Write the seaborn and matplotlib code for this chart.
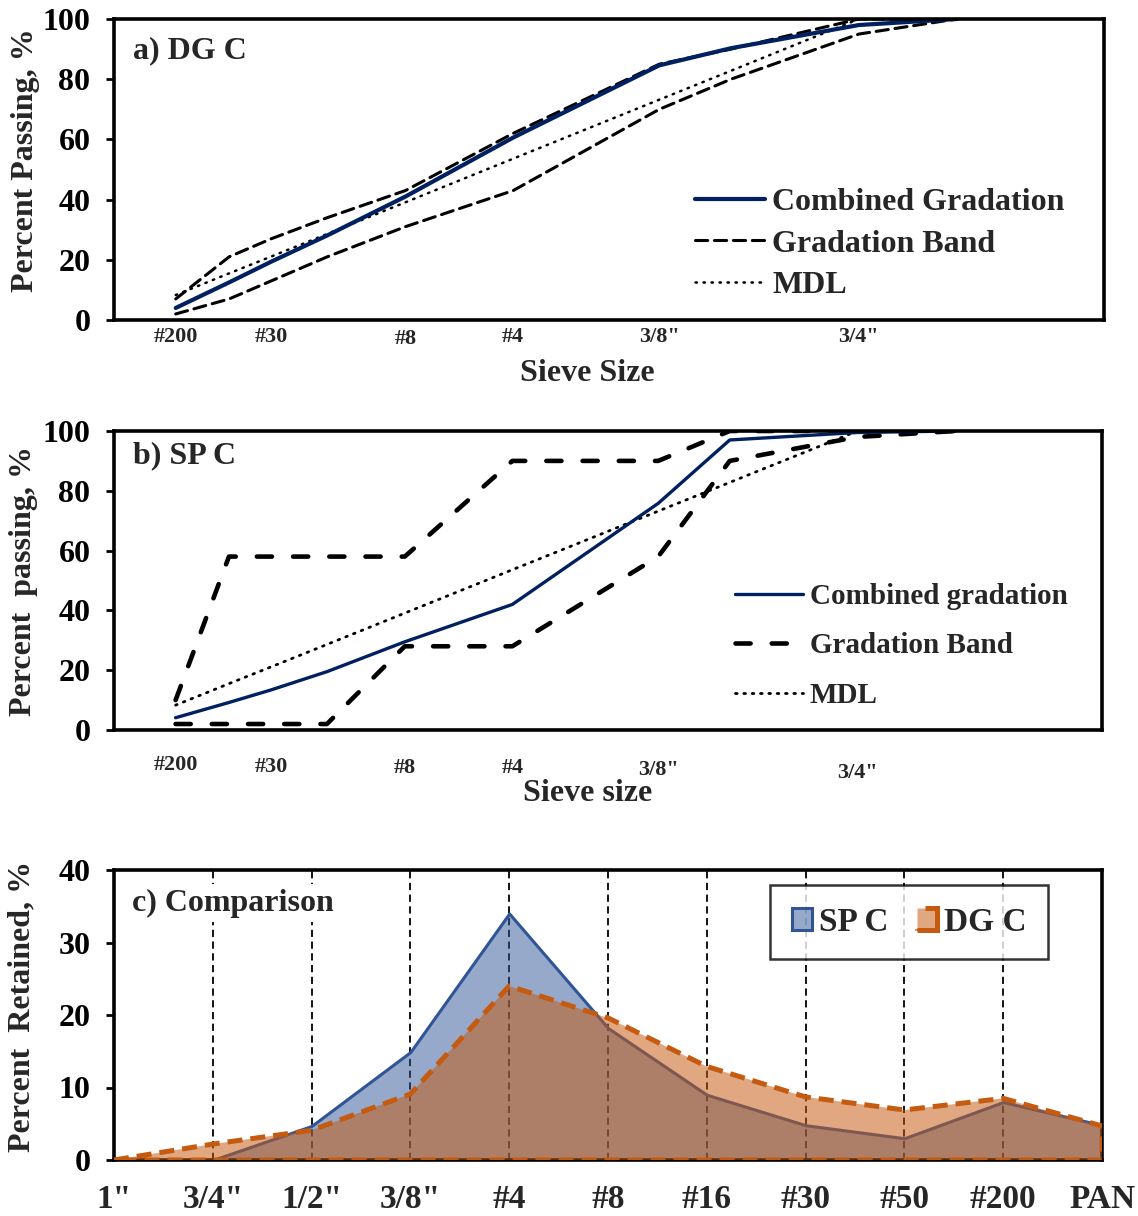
import numpy as np
import matplotlib
matplotlib.use("Agg")
import matplotlib.pyplot as plt
import seaborn as sns
from matplotlib.lines import Line2D
from matplotlib.transforms import blended_transform_factory

sns.set_theme(style="white")
plt.rcParams["font.family"] = ["Liberation Serif", "DejaVu Serif"]
plt.rcParams["font.weight"] = "bold"
plt.rcParams["axes.labelweight"] = "bold"

# ---- sieve sizes (mm) used for the passing curves ----
sieve_mm = [0.075, 0.3, 0.6, 1.18, 2.36, 4.75, 9.5, 12.5, 19.0, 25.0]
label_mm = [0.075, 0.6, 2.36, 4.75, 9.5, 19.0]
label_txt = ["#200", "#30", "#8", "#4", '3/8"', '3/4"']

# ---- a) DG C, percent passing ----
dg_combined = [4.0, 12.5, 19.4, 28.1, 41.0, 60.6, 84.6, 90.3, 98.0, 100.0]
dg_band_upper = [7.0, 21.0, 27.0, 34.0, 43.0, 62.0, 85.0, 90.0, 100.0, 100.0]
dg_band_lower = [2.0, 7.0, 13.0, 21.0, 31.0, 43.0, 70.0, 80.0, 95.0, 100.0]

# ---- b) SP C, percent passing ----
sp_combined = [4.1, 9.2, 13.4, 19.5, 29.5, 42.0, 75.8, 97.0, 99.5, 100.0]
sp_band_upper = [10.0, 58.0, 58.0, 58.0, 58.0, 90.0, 90.0, 100.0, 100.0, 100.0]
sp_band_lower = [2.0, 2.0, 2.0, 2.0, 28.0, 28.0, 58.0, 90.0, 98.0, 100.0]

# maximum density line
mdl = [8.3, 15.5, 21.1, 28.6, 39.1, 53.6, 73.2, 82.8, 100.0, 100.0]

# ---- c) percent retained on each sieve ----
retained_sieves = ['1"', '3/4"', '1/2"', '3/8"', "#4", "#8", "#16", "#30", "#50", "#200", "PAN"]
sp_retained = [0.0, 0.0, 4.7, 14.9, 34.0, 18.2, 9.0, 4.8, 3.0, 8.0, 4.8]
dg_retained = [0.0, 2.2, 4.1, 9.1, 24.0, 19.6, 12.9, 8.7, 6.9, 8.5, 4.7]

NAVY = "#002060"
SP_BLUE = "#2F5597"
DG_ORANGE = "#C55A11"

W, H = 1138, 1216
fig = plt.figure(figsize=(W / 100, H / 100), dpi=100)
ax_a = fig.add_axes([114 / W, 1 - 320 / H, 990 / W, 301 / H])
ax_b = fig.add_axes([114 / W, 1 - 730 / H, 988 / W, 299 / H])
ax_c = fig.add_axes([114 / W, 1 - 1160 / H, 988 / W, 290 / H])

xpos = np.array(sieve_mm) ** 0.45
label_pos = np.array(label_mm) ** 0.45


def frame(ax):
    for s in ax.spines.values():
        s.set_visible(True)
        s.set_color("black")
        s.set_linewidth(2.6)
    ax.tick_params(axis="y", left=True, direction="out", length=6, width=2,
                   pad=11, labelsize=23, colors="black")
    ax.tick_params(axis="x", bottom=False)


def passing_panel(ax, combined, upper, lower, band_style, lw_comb, lw_band,
                  dot_style, lw_dot, title, leg_labels, leg_xy, leg_spacing,
                  leg_size, leg_handle, lab_y, xlabel, xlabel_y, ylabel,
                  ylabel_xy):
    sns.lineplot(x=xpos, y=mdl, ax=ax, color="black", lw=lw_dot,
                 linestyle=dot_style, dash_capstyle="round", sort=False,
                 estimator=None)
    for band in (upper, lower):
        sns.lineplot(x=xpos, y=band, ax=ax, color="black", lw=lw_band,
                     linestyle=band_style, dash_capstyle="round", sort=False,
                     estimator=None)
    sns.lineplot(x=xpos, y=combined, ax=ax, color=NAVY, lw=lw_comb,
                 sort=False, estimator=None)
    ax.set_xlim(0, 5)
    ax.set_ylim(0, 100)
    ax.set_yticks(range(0, 101, 20))
    ax.set_xticks([])
    frame(ax)

    trans = blended_transform_factory(ax.transData, ax.transAxes)
    for p, t, yy in zip(label_pos, label_txt, lab_y):
        ax.text(p, yy, t, transform=trans, ha="center", va="center",
                fontsize=16, fontweight="bold")

    ax.set_xlabel(xlabel, fontsize=23, fontweight="bold")
    ax.xaxis.set_label_coords(xlabel_y[0], xlabel_y[1])
    ax.set_ylabel(ylabel, fontsize=23, fontweight="bold")
    ax.yaxis.set_label_coords(ylabel_xy[0], ylabel_xy[1])

    ax.text(0.019, title[1], title[0], transform=ax.transAxes, ha="left",
            va="center", fontsize=23, fontweight="bold")

    handles = [
        Line2D([], [], color=NAVY, lw=lw_comb),
        Line2D([], [], color="black", lw=lw_band, linestyle=band_style,
               dash_capstyle="round"),
        Line2D([], [], color="black", lw=lw_dot, linestyle=dot_style,
               dash_capstyle="round"),
    ]
    ax.legend(handles, leg_labels, loc="center left", bbox_to_anchor=leg_xy,
              frameon=False, fontsize=leg_size, handlelength=leg_handle,
              handletextpad=0.22, labelspacing=leg_spacing, borderpad=0,
              borderaxespad=0)


passing_panel(
    ax_a, dg_combined, dg_band_upper, dg_band_lower,
    band_style=(0, (4.0, 2.2)), lw_comb=3.0, lw_band=2.2,
    dot_style=(0, (0.6, 2.6)), lw_dot=1.8,
    title=("a) DG C", 0.894),
    leg_labels=["Combined Gradation", "Gradation Band", "MDL"],
    leg_xy=(0.587, 0.2525), leg_spacing=0.37, leg_size=23, leg_handle=2.2,
    lab_y=[-0.056, -0.056, -0.063, -0.056, -0.056, -0.056],
    xlabel="Sieve Size", xlabel_y=(0.478, -0.13),
    ylabel="Percent Passing, %", ylabel_xy=(-0.075, 0.53),
)

passing_panel(
    ax_b, sp_combined, sp_band_upper, sp_band_lower,
    band_style=(0, (3.3, 4.6)), lw_comb=2.4, lw_band=3.3,
    dot_style=(0, (0.6, 2.4)), lw_dot=2.0,
    title=("b) SP C", 0.916),
    leg_labels=["Combined gradation", "Gradation Band", "MDL"],
    leg_xy=(0.6285, 0.281), leg_spacing=0.78, leg_size=21, leg_handle=2.35,
    lab_y=[-0.117, -0.124, -0.127, -0.127, -0.134, -0.144],
    xlabel="Sieve size", xlabel_y=(0.479, -0.163),
    ylabel="Percent  passing, %", ylabel_xy=(-0.077, 0.5),
)

# ---- c) retained comparison ----
idx = np.arange(len(retained_sieves))
ax_c.grid(axis="x", color="black", linestyle=(0, (4, 2.5)), linewidth=1.3)
ax_c.set_axisbelow(True)
sp_area = ax_c.fill_between(idx, sp_retained, facecolor=(0.184, 0.333, 0.592, 0.5),
                            edgecolor=SP_BLUE, linewidth=2.2, zorder=2, label="SP C")
dg_area = ax_c.fill_between(idx, dg_retained, facecolor=(0.773, 0.353, 0.067, 0.53),
                            edgecolor=DG_ORANGE, linewidth=3.6,
                            linestyle=(0, (3.0, 1.6)), zorder=3, label="DG C")
ax_c.set_xlim(0, len(retained_sieves) - 1)
ax_c.set_ylim(0, 40)
ax_c.set_yticks(range(0, 41, 10))
ax_c.set_xticks(idx)
ax_c.set_xticklabels(retained_sieves)
frame(ax_c)
ax_c.tick_params(axis="x", bottom=False, length=0, pad=17, labelsize=24)
ax_c.set_ylabel("Percent  Retained, %", fontsize=23, fontweight="bold")
ax_c.yaxis.set_label_coords(-0.079, 0.53)
ax_c.text(0.018, 0.886, "c) Comparison", transform=ax_c.transAxes, ha="left",
          va="center", fontsize=23, fontweight="bold", zorder=4,
          bbox=dict(facecolor="white", edgecolor="none", pad=3))
leg = ax_c.legend([sp_area, dg_area], ["SP C", "DG C"], loc="upper left",
                  bbox_to_anchor=(0.664, 0.948), ncol=2, fontsize=24,
                  handlelength=0.6, handleheight=0.6, handletextpad=0.22,
                  columnspacing=0.85, borderpad=0.65, borderaxespad=0,
                  frameon=True, fancybox=False, edgecolor="black")
leg.get_frame().set_linewidth(1.8)

for ax in (ax_a, ax_b, ax_c):
    for t in ax.get_xticklabels() + ax.get_yticklabels():
        t.set_fontweight("bold")

fig.savefig("out.png", dpi=100)
